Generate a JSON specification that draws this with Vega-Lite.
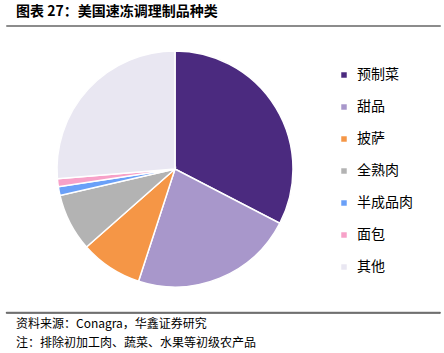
{
  "$schema": "https://vega.github.io/schema/vega-lite/v6.json",
  "padding": {"left": 5, "top": 4, "right": 4, "bottom": 2},
  "background": "white",
  "bounds": "flush",
  "spacing": 24,
  "config": {
    "view": {"stroke": null},
    "font": "Noto Sans CJK SC"
  },
  "vconcat": [
    {
      "width": 434,
      "height": 1,
      "view": {"stroke": "#8c8c8c", "strokeWidth": 1},
      "title": {"text": "图表 27：美国速冻调理制品种类", "anchor": "start", "dx": 10, "offset": 4, "fontSize": 14, "fontWeight": "bold", "color": "#000000", "font": "Noto Sans CJK SC"},
      "data": {"values": [{}]},
      "mark": {"type": "point", "opacity": 0}
    },
    {
      "width": 338,
      "height": 238,
      "data": {"values": [
        {"category": "预制菜", "value": 32.6, "idx": 1},
        {"category": "甜品", "value": 22.4, "idx": 2},
        {"category": "披萨", "value": 8.5, "idx": 3},
        {"category": "全熟肉", "value": 7.9, "idx": 4},
        {"category": "半成品肉", "value": 1.2, "idx": 5},
        {"category": "面包", "value": 1.1, "idx": 6},
        {"category": "其他", "value": 26.3, "idx": 7}
      ]},
      "mark": {"type": "arc", "radius": 118, "stroke": "white", "strokeWidth": 1.5},
      "encoding": {
        "theta": {"field": "value", "type": "quantitative", "stack": true},
        "order": {"field": "idx", "type": "quantitative"},
        "color": {
          "field": "category", "type": "nominal",
          "scale": {
            "domain": ["预制菜", "甜品", "披萨", "全熟肉", "半成品肉", "面包", "其他"],
            "range": ["#4B2A7F", "#A897CB", "#F59646", "#B3B3B3", "#6AA0F8", "#F7A1C8", "#E9E7F2"]
          },
          "legend": {
            "title": null,
            "orient": "none",
            "legendX": 331,
            "legendY": 43,
            "padding": 0,
            "symbolType": "square",
            "symbolSize": 30,
            "symbolStrokeWidth": 0,
            "labelFontSize": 14,
            "labelColor": "#000000",
            "labelOffset": 6,
            "rowPadding": 18,
            "labelFont": "Noto Sans CJK SC"
          }
        }
      }
    },
    {
      "width": 434,
      "height": 1,
      "view": {"stroke": "#333333", "strokeWidth": 0.8},
      "title": {"text": ["资料来源：Conagra，华鑫证券研究", "注：排除初加工肉、蔬菜、水果等初级农产品"], "orient": "bottom", "anchor": "start", "dx": 10, "offset": 4, "fontSize": 12, "fontWeight": "normal", "lineHeight": 19, "color": "#000000", "font": "Noto Sans CJK SC"},
      "data": {"values": [{}]},
      "mark": {"type": "point", "opacity": 0}
    }
  ]
}
